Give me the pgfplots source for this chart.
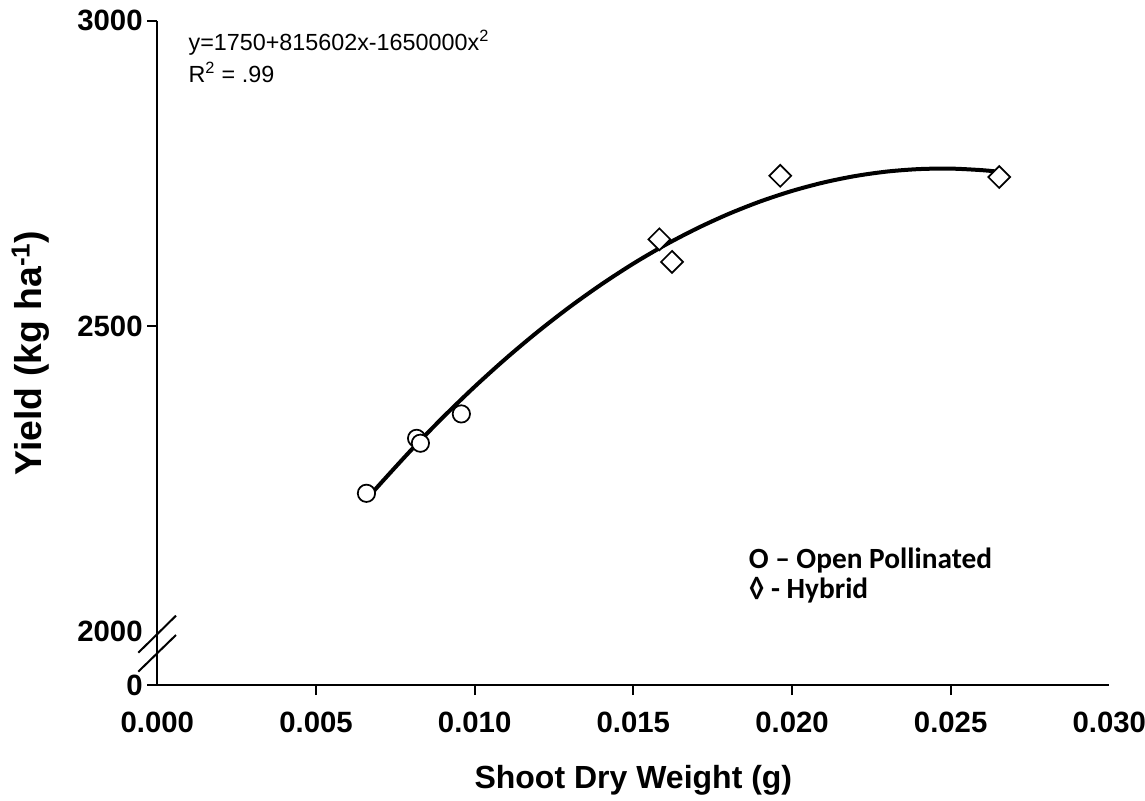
\documentclass[border=0pt]{standalone}
\usepackage{fontspec}
\setmainfont{Liberation Sans}
\newfontfamily\carlito{Carlito}
\usepackage{pgfplots}
\pgfplotsset{compat=1.18}
\newcommand{\tl}[1]{{\bfseries\fontsize{22}{24}\selectfont #1}}
\begin{document}
\begin{tikzpicture}
\begin{axis}[
  name=ax, at={(0,0)}, anchor=south west,
  scale only axis, width=714pt, height=498.2pt,
  xmin=0, xmax=0.030, ymin=1912, ymax=3000,
  scaled x ticks=false, scaled y ticks=false,
  axis x line*=bottom, axis y line*=left,
  axis line style={line width=1.5pt, -},
  tick align=outside, major tick length=7.5pt,
  tick style={line width=1.5pt, black},
  xtick={0.005,0.010,0.015,0.020,0.025},
  xticklabels={\tl{0.005},\tl{0.010},\tl{0.015},\tl{0.020},\tl{0.025}},
  extra x ticks={0,0.030}, extra x tick labels={\tl{0.000},\tl{0.030}},
  extra x tick style={tick style={draw=none}},
  ytick={1912,2500,3000}, yticklabels={\tl{0},\tl{2500},\tl{3000}},
  extra y ticks={2000}, extra y tick labels={\tl{2000}},
  extra y tick style={tick style={draw=none}},
  x tick label style={yshift=-9pt},
  xlabel={Shoot Dry Weight (g)}, ylabel={Yield (kg ha\textsuperscript{-1})},
  xlabel style={font=\bfseries\fontsize{24}{28}\selectfont, at={(axis description cs:0.5,-0.143)}, anchor=center},
  ylabel style={font=\bfseries\fontsize{28}{32}\selectfont, at={(axis description cs:-0.133,0.5)}, anchor=center},
  clip=false,
]
\addplot[line width=3pt, smooth, black] coordinates {
(0.0066,2216.4)(0.007,2240.1)(0.008,2296.9)(0.009,2350.4)(0.010,2400.6)
(0.011,2447.5)(0.012,2491.1)(0.013,2531.4)(0.014,2568.4)(0.015,2602.2)
(0.016,2632.6)(0.017,2659.7)(0.018,2683.5)(0.019,2704.0)(0.020,2721.2)
(0.021,2735.1)(0.022,2745.7)(0.023,2753.0)(0.024,2757.0)(0.025,2757.8)
(0.026,2755.2)(0.0265,2752.6)};
\addplot[only marks, mark=*, mark size=6.5pt, mark options={fill=white, draw=black, line width=1.3pt}] coordinates {
(0.00659,2226)(0.00817,2316)(0.00829,2308)(0.00958,2356)};
\addplot[only marks, mark=square*, mark size=5.8pt, mark options={rotate=45, fill=white, draw=black, line width=1.3pt}] coordinates {
(0.01582,2642)(0.01622,2605)(0.01963,2746)(0.02653,2744)};
\node[anchor=north west, inner sep=0pt, align=left, font=\fontsize{17.5}{24}\selectfont] at (axis description cs:0.0326,0.986) {y=1750+815602x-1650000x\textsuperscript{2}\\R\textsuperscript{2} = .99};
\node[anchor=north west, inner sep=0pt, align=left, font=\carlito\bfseries\fontsize{22}{22.5}\selectfont] at (axis description cs:0.621,0.207) {O – Open Pollinated\\◊ - Hybrid};
\end{axis}
\draw[line width=1.5pt] ([shift={(-14.3pt,24.2pt)}]ax.south west) -- ++(28.3pt,27.8pt);
\draw[line width=1.5pt] ([shift={(-14.3pt,10pt)}]ax.south west) -- ++(28.3pt,27.5pt);
\pgfresetboundingbox
\path[use as bounding box] ([shift={(-118pt,-86.25pt)}]ax.south west) rectangle ++(858.75pt,600pt);
\end{tikzpicture}
\end{document}
